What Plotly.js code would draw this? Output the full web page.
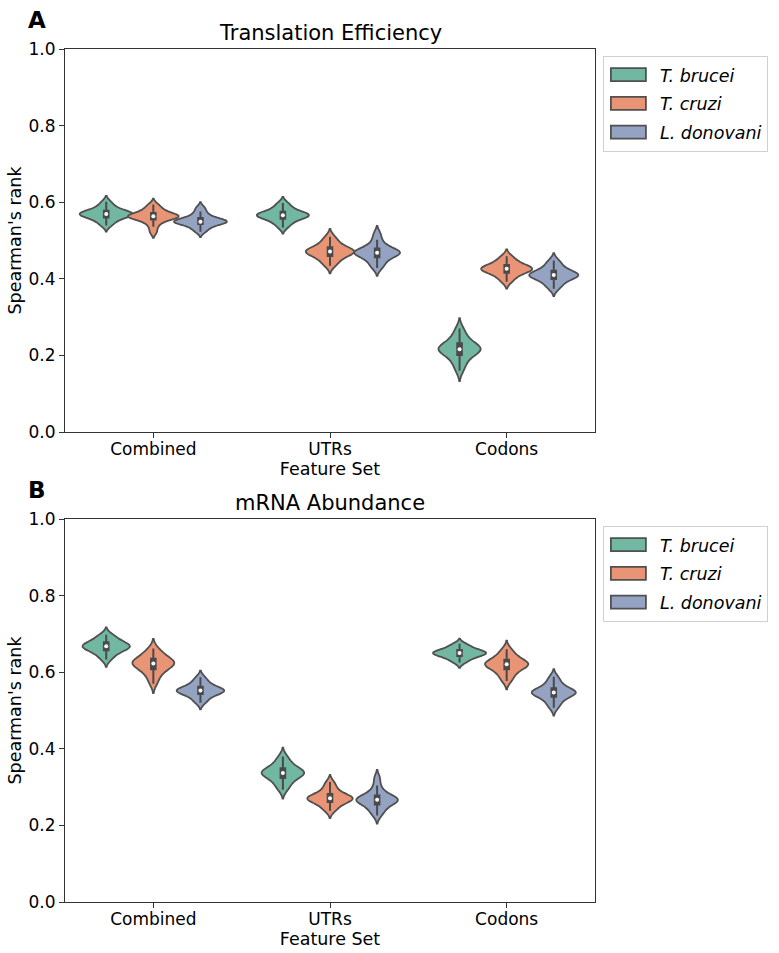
<!DOCTYPE html>
<html>
<head>
<meta charset="utf-8">
<script src="https://cdn.plot.ly/plotly-3.0.1.min.js"></script>
<style>
  html, body { margin: 0; padding: 0; background: #fff; }
  #chart { width: 779px; height: 953px; }
</style>
</head>
<body>
<div id="chart"></div>
<script>
// Feature sets on the x axis and the three species
const featureSets = ['Combined', 'UTRs', 'Codons'];
const species = ['T. brucei', 'T. cruzi', 'L. donovani'];
const yTicks = [0, 0.2, 0.4, 0.6, 0.8, 1.0];

// Translation efficiency: Spearman's rank per CV run
const teBruceiCombined = [0.539, 0.547, 0.553, 0.558, 0.561, 0.564, 0.566, 0.568, 0.569, 0.570, 0.572, 0.574, 0.577, 0.580, 0.585, 0.592, 0.601];
const teCruziCombined  = [0.522, 0.536, 0.546, 0.552, 0.556, 0.559, 0.561, 0.562, 0.563, 0.564, 0.566, 0.568, 0.571, 0.575, 0.580, 0.586, 0.594];
const teDonovaniCombined = [0.523, 0.530, 0.536, 0.541, 0.544, 0.546, 0.548, 0.549, 0.549, 0.551, 0.553, 0.555, 0.558, 0.562, 0.568, 0.576, 0.586];
const teBruceiUTRs = [0.534, 0.543, 0.549, 0.554, 0.558, 0.561, 0.563, 0.565, 0.566, 0.567, 0.569, 0.571, 0.574, 0.578, 0.583, 0.590, 0.598];
const teCruziUTRs  = [0.434, 0.443, 0.450, 0.456, 0.461, 0.465, 0.468, 0.470, 0.471, 0.472, 0.474, 0.477, 0.481, 0.486, 0.492, 0.500, 0.510];
const teDonovaniUTRs = [0.428, 0.437, 0.445, 0.452, 0.458, 0.462, 0.465, 0.467, 0.468, 0.469, 0.471, 0.474, 0.478, 0.483, 0.490, 0.502, 0.518];
const teBruceiCodons = [0.160, 0.176, 0.187, 0.196, 0.203, 0.208, 0.212, 0.215, 0.216, 0.218, 0.221, 0.225, 0.230, 0.236, 0.244, 0.255, 0.270];
const teCruziCodons  = [0.392, 0.401, 0.408, 0.413, 0.417, 0.420, 0.423, 0.425, 0.426, 0.427, 0.429, 0.432, 0.435, 0.439, 0.444, 0.451, 0.459];
const teDonovaniCodons = [0.374, 0.383, 0.390, 0.396, 0.401, 0.404, 0.407, 0.409, 0.410, 0.411, 0.413, 0.416, 0.420, 0.425, 0.431, 0.439, 0.448];

// mRNA abundance: Spearman's rank per CV run
const abBruceiCombined = [0.633, 0.642, 0.649, 0.654, 0.658, 0.661, 0.664, 0.666, 0.668, 0.669, 0.671, 0.674, 0.677, 0.681, 0.686, 0.692, 0.698];
const abCruziCombined  = [0.570, 0.585, 0.596, 0.603, 0.609, 0.614, 0.618, 0.621, 0.623, 0.625, 0.627, 0.630, 0.634, 0.639, 0.645, 0.652, 0.662];
const abDonovaniCombined = [0.520, 0.528, 0.535, 0.540, 0.544, 0.547, 0.549, 0.551, 0.552, 0.553, 0.555, 0.558, 0.561, 0.565, 0.571, 0.578, 0.587];
const abBruceiUTRs = [0.293, 0.303, 0.312, 0.319, 0.325, 0.329, 0.333, 0.335, 0.337, 0.339, 0.341, 0.344, 0.348, 0.353, 0.360, 0.369, 0.380];
const abCruziUTRs  = [0.238, 0.246, 0.253, 0.258, 0.262, 0.265, 0.268, 0.270, 0.271, 0.272, 0.274, 0.277, 0.281, 0.286, 0.293, 0.302, 0.313];
const abDonovaniUTRs = [0.226, 0.236, 0.244, 0.250, 0.256, 0.260, 0.263, 0.265, 0.267, 0.268, 0.270, 0.273, 0.277, 0.282, 0.290, 0.304, 0.324];
const abBruceiCodons = [0.625, 0.631, 0.636, 0.640, 0.643, 0.645, 0.647, 0.649, 0.650, 0.651, 0.653, 0.655, 0.657, 0.660, 0.664, 0.669, 0.674];
const abCruziCodons  = [0.577, 0.587, 0.596, 0.603, 0.609, 0.613, 0.616, 0.619, 0.621, 0.622, 0.624, 0.627, 0.631, 0.636, 0.642, 0.650, 0.660];
const abDonovaniCodons = [0.507, 0.517, 0.525, 0.532, 0.537, 0.541, 0.544, 0.546, 0.547, 0.548, 0.550, 0.553, 0.557, 0.562, 0.569, 0.578, 0.588];

// [feature set][species]
const teData = [
  [teBruceiCombined, teCruziCombined, teDonovaniCombined],
  [teBruceiUTRs, teCruziUTRs, teDonovaniUTRs],
  [teBruceiCodons, teCruziCodons, teDonovaniCodons]
];
const abData = [
  [abBruceiCombined, abCruziCombined, abDonovaniCombined],
  [abBruceiUTRs, abCruziUTRs, abDonovaniUTRs],
  [abBruceiCodons, abCruziCodons, abDonovaniCodons]
];

// Set2 palette, desaturated as in seaborn violins
const fills = ['#71b7a1', '#e99575', '#95a3c3'];
const edge = '#505050';
const boxColor = '#4a4a4a';
const FONT = 'DejaVu Sans, Arial, sans-serif';

function sd(a) {
  const m = a.reduce((s, v) => s + v, 0) / a.length;
  return Math.sqrt(a.reduce((s, v) => s + (v - m) * (v - m), 0) / (a.length - 1));
}
function median(a) {
  const s = a.slice().sort((p, q) => p - q);
  const n = s.length;
  return n % 2 ? s[(n - 1) / 2] : (s[n / 2 - 1] + s[n / 2]) / 2;
}

const traces = [];
const hueOffset = 0.8 / 3;
const maxWidth = 0.30;

function addPanel(data, xa, ya, legendId) {
  // tighter distributions get wider violins (roughly equal-area scaling)
  let minSd = Infinity;
  data.forEach(row => row.forEach(v => { minSd = Math.min(minSd, sd(v)); }));
  const medX = [], medY = [];
  data.forEach((row, c) => {
    row.forEach((vals, h) => {
      const pos = c + (h - 1) * hueOffset;
      const w = maxWidth * Math.pow(minSd / sd(vals), 0.4);
      traces.push({
        type: 'violin',
        y: vals,
        x0: pos,
        name: '<i>' + species[h] + '</i>',
        legendgroup: species[h],
        legend: legendId,
        showlegend: c === 0,
        xaxis: xa, yaxis: ya,
        width: w,
        scalemode: 'width',
        spanmode: 'soft',
        points: false,
        fillcolor: fills[h],
        opacity: 1,
        line: { color: edge, width: 1.8 },
        box: { visible: true, width: 0.026 / w, fillcolor: boxColor, line: { color: boxColor, width: 2 } },
        meanline: { visible: false },
        hoverinfo: 'y'
      });
      medX.push(pos);
      medY.push(median(vals));
    });
  });
  traces.push({
    type: 'scatter', mode: 'markers', x: medX, y: medY,
    xaxis: xa, yaxis: ya, showlegend: false, hoverinfo: 'skip',
    marker: { color: '#ffffff', size: 4, line: { width: 0 } }
  });
}

addPanel(teData, 'x', 'y', 'legend');
addPanel(abData, 'x2', 'y2', 'legend2');

const TICK = 17, LABEL = 17.5;

function xAxis(anchor) {
  return {
    anchor: anchor,
    domain: [0, 1],
    range: [-0.5, 2.5],
    tickmode: 'array',
    tickvals: featureSets.map((_, i) => i),
    ticktext: featureSets,
    ticks: 'outside', ticklen: 5, tickwidth: 1, tickcolor: '#333',
    ticklabelstandoff: -3,
    showline: true, mirror: true, linecolor: '#333', linewidth: 1,
    showgrid: false, zeroline: false,
    tickfont: { family: FONT, size: TICK, color: '#000' },
    title: { text: 'Feature Set', font: { family: FONT, size: LABEL, color: '#000' }, standoff: 0 }
  };
}
function yAxis(anchor, domain) {
  return {
    anchor: anchor,
    domain: domain,
    range: [0, 1],
    tickmode: 'array',
    tickvals: yTicks,
    ticktext: yTicks.map(v => v.toFixed(1)),
    ticks: 'outside', ticklen: 5, tickwidth: 1, tickcolor: '#333',
    showline: true, mirror: true, linecolor: '#333', linewidth: 1,
    showgrid: false, zeroline: false,
    tickfont: { family: FONT, size: TICK, color: '#000' },
    title: { text: "Spearman's rank", font: { family: FONT, size: LABEL, color: '#000' }, standoff: 2 }
  };
}

const legendStyle = {
  x: 1.013, xanchor: 'left', yanchor: 'top',
  bgcolor: '#ffffff', bordercolor: '#d0d0d0', borderwidth: 1,
  font: { family: FONT, size: 17.5, color: '#000' },
  tracegroupgap: 3, itemwidth: 46
};

const layout = {
  width: 779, height: 953,
  margin: { l: 65, r: 183, t: 49, b: 51 },
  paper_bgcolor: '#fff', plot_bgcolor: '#fff',
  font: { family: FONT, color: '#000' },
  violinmode: 'overlay',
  xaxis: xAxis('y'),
  yaxis: yAxis('x', [0.551, 1]),
  xaxis2: xAxis('y2'),
  yaxis2: yAxis('x2', [0, 0.449]),
  legend: Object.assign({ y: 0.992 }, legendStyle),
  legend2: Object.assign({ y: 0.441 }, legendStyle),
  annotations: [
    { text: 'Translation Efficiency', xref: 'paper', yref: 'paper', x: 0.5, y: 1, yanchor: 'bottom', yshift: 2,
      showarrow: false, font: { family: FONT, size: 21, color: '#000' } },
    { text: 'mRNA Abundance', xref: 'paper', yref: 'paper', x: 0.5, y: 0.449, yanchor: 'bottom', yshift: 2,
      showarrow: false, font: { family: FONT, size: 21, color: '#000' } },
    { text: '<b>A</b>', xref: 'paper', yref: 'paper', x: -0.052, y: 1, xanchor: 'center', yanchor: 'bottom', yshift: 14,
      showarrow: false, font: { family: FONT, size: 23, color: '#000' } },
    { text: '<b>B</b>', xref: 'paper', yref: 'paper', x: -0.052, y: 0.449, xanchor: 'center', yanchor: 'bottom', yshift: 14,
      showarrow: false, font: { family: FONT, size: 23, color: '#000' } }
  ]
};

Plotly.newPlot('chart', traces, layout, { displayModeBar: false, staticPlot: true }).then(gd => {
  // wide rectangular patches for the legend entries
  gd.querySelectorAll('path.legendbox').forEach(p => {
    p.setAttribute('d', 'M-21,-6.5H14V6.5H-21Z');
  });
});
</script>
</body>
</html>
